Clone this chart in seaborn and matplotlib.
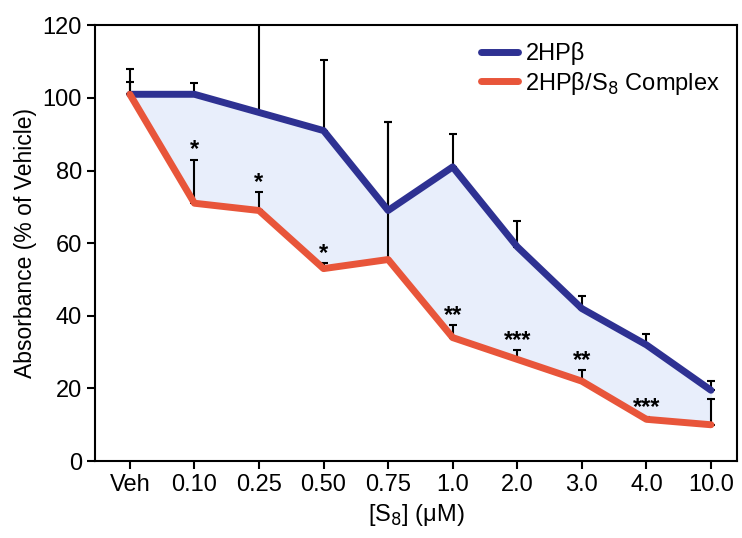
import numpy as np
import pandas as pd
import seaborn as sns
from matplotlib import pyplot as plt

doses = ['Veh', '0.10', '0.25', '0.50', '0.75', '1.0', '2.0', '3.0', '4.0', '10.0']
hpb = [101, 101, 96, 91, 69, 81, 59, 42, 32, 19.5]
hpb_err = [7, 3, 25, 19.5, 24.5, 9, 7, 3.5, 3, 2.5]
cplx = [101, 71, 69, 53, 55.5, 34, 28, 22, 11.5, 10]
cplx_err = [3.5, 12, 5, 1.5, 38, 3.5, 2.5, 3, 0.5, 7]
stars = ['', '*', '*', '*', '', '**', '***', '**', '***', '']

blue = '#2E3192'
orange = '#E8553A'

sns.set_style('ticks')
plt.rcParams['font.family'] = ['Liberation Sans', 'DejaVu Sans']
plt.rcParams['text.color'] = 'black'
plt.rcParams['axes.labelcolor'] = 'black'
plt.rcParams['xtick.color'] = 'black'
plt.rcParams['ytick.color'] = 'black'

df = pd.DataFrame({'dose': doses * 2,
                   'val': hpb + cplx,
                   'grp': ['2HPβ'] * len(doses) + ['2HPβ/S$_8$ Complex'] * len(doses)})
df['x'] = list(range(len(doses))) * 2

fig = plt.figure(figsize=(7.42, 5.38), dpi=100)
ax = fig.add_axes([0.128, 0.143, 0.865, 0.81])
x = np.arange(len(doses))
ax.fill_between(x, hpb, cplx, color='#E8EEFB', zorder=1)
ax.errorbar(x, hpb, yerr=[np.zeros(len(x)), hpb_err], fmt='none', ecolor='black',
            elinewidth=1.5, capsize=3, capthick=1.5, zorder=2)
ax.errorbar(x, cplx, yerr=[np.zeros(len(x)), cplx_err], fmt='none', ecolor='black',
            elinewidth=1.5, capsize=3, capthick=1.5, zorder=2)
sns.lineplot(data=df, x='x', y='val', hue='grp', palette=[blue, orange], lw=5,
             ax=ax, zorder=3)
for i, s in enumerate(stars):
    if s:
        ax.text(i, cplx[i] + cplx_err[i] - 0.5, s, ha='center', va='bottom',
                fontsize=17, fontweight='bold')

ax.set_xlim(-0.54, 9.4)
ax.set_ylim(0, 120)
ax.set_xticks(x)
ax.set_xticklabels(doses)
ax.set_yticks(range(0, 121, 20))
ax.tick_params(labelsize=17, width=1.5, length=6)
for sp in ax.spines.values():
    sp.set_linewidth(1.5)
    sp.set_color('black')
ax.set_xlabel('[S$_8$] (μM)', fontsize=17)
ax.set_ylabel('Absorbance (% of Vehicle)', fontsize=16.5)
ax.legend(title=None, frameon=False, fontsize=17, loc='upper right',
          handlelength=1.6, handletextpad=0.3, borderaxespad=0.3, labelspacing=0.2)
plt.savefig('out.png', dpi=100)
